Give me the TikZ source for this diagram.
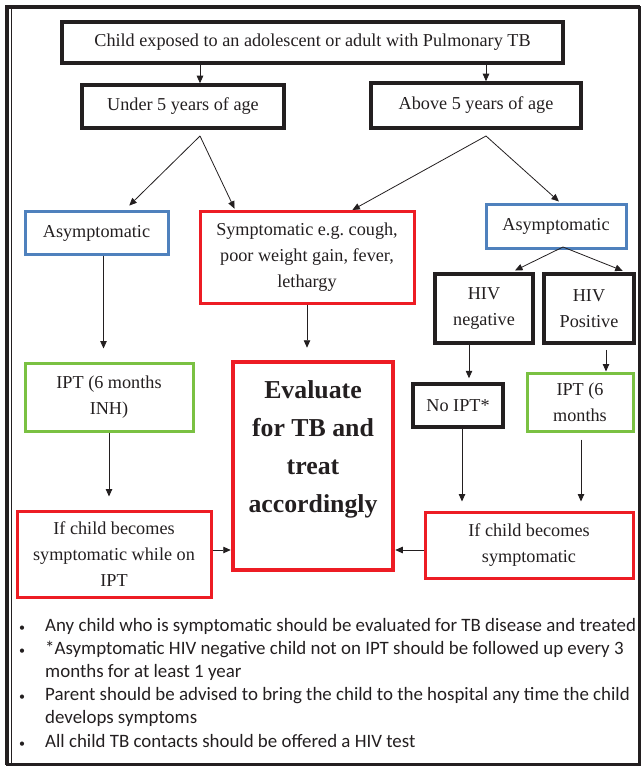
\documentclass[tikz,border=0pt]{standalone}
\usepackage{fontspec}
\setmainfont{Liberation Serif}
\newfontfamily\notefont{Carlito}
\usepackage{xcolor}
\usetikzlibrary{arrows.meta, calc, positioning}
\definecolor{alertred}{RGB}{237, 28, 36}
\definecolor{calmblue}{RGB}{79, 129, 189}
\definecolor{iptgreen}{RGB}{122, 193, 66}
\definecolor{inkgray}{RGB}{35, 31, 32}

\begin{document}
\begin{tikzpicture}[x=1pt, y=-1pt,
    box/.style={rectangle, draw, inner sep=0pt, align=center, text=inkgray, font=\fontsize{18.2}{26}\selectfont},
    blackbox/.style={box, draw=inkgray, line width=3.5pt},
    bluebox/.style={box, draw=calmblue, line width=3pt},
    redbox/.style={box, draw=alertred, line width=3pt},
    greenbox/.style={box, draw=iptgreen, line width=3pt},
    arrow/.style={-{Triangle[length=7.5pt, width=6.5pt]}, line width=0.8pt, inkgray},
    note/.style={anchor=base west, inner sep=0pt, text=inkgray, font=\notefont\fontsize{18.9}{24}\selectfont},
    dot/.style={anchor=base, inner sep=0pt, text=inkgray, font=\notefont\fontsize{12}{24}\selectfont}
]
\useasboundingbox (0,0) rectangle (644,767);

% Frame
\draw[inkgray, line width=2.5pt] (7,7) rectangle (639.5,764.5);
\draw[inkgray, line width=4pt] (7,764.5) -- (7,7) -- (639.5,7);
\draw[inkgray, line width=1.5pt] (11.5,9) -- (11.5,764.5);

% Exposure and age groups
\node[blackbox, minimum width=501pt, minimum height=41pt] (exposed) at (312.5,42.5) {Child exposed to an adolescent or adult with Pulmonary TB};
\node[blackbox, minimum width=202pt, minimum height=43pt] (under) at (183,106.5) {Under 5 years of age};
\node[blackbox, minimum width=210pt, minimum height=45pt] (above) at (476,105.5) {Above 5 years of age};
\coordinate (usplit) at (200,136);
\coordinate (asplit) at (486,136);

% Second row
\node[bluebox, minimum width=143pt, minimum height=42pt] (asymleft) at (96.5,233) {Asymptomatic};
\node[redbox, minimum width=214pt, minimum height=91pt] (symptom) at (307,257.5) {Symptomatic e.g.\ cough,\\poor weight gain, fever,\\lethargy};
\node[bluebox, minimum width=140pt, minimum height=43pt] (asymright) at (556,226.5) {Asymptomatic};
\coordinate (hsplit) at (563,247);
\node[blackbox, minimum width=98pt, minimum height=69pt] (hivneg) at (484,308.5) {HIV\\negative};
\node[blackbox, minimum width=90pt, minimum height=69pt] (hivpos) at (589,308.5) {HIV\\Positive};

% Treatment row
\node[greenbox, minimum width=168pt, minimum height=68pt] (iptleft) at (109,397) {IPT (6 months\\INH)};
\node[redbox, line width=4.5pt, minimum width=160pt, minimum height=208pt, font=\bfseries\fontsize{25.8}{38}\selectfont] (evaluate) at (313,466) {Evaluate\\for TB and\\treat\\accordingly\\~};
\node[blackbox, minimum width=90pt, minimum height=43pt] (noipt) at (458,405.5) {No IPT*};
\node[greenbox, minimum width=106pt, minimum height=58pt] (iptright) at (580,402) {IPT (6\\months};

% Follow-up row
\node[redbox, minimum width=194pt, minimum height=86pt] (sickleft) at (114,554) {If child becomes\\symptomatic while on\\IPT};
\node[redbox, minimum width=208pt, minimum height=66pt] (sickright) at (529,545) {If child becomes\\symptomatic};

% Arrows
\draw[arrow] (exposed.south -| usplit) -- (under.north -| usplit);
\draw[arrow] (exposed.south -| asplit) -- (above.north -| asplit);
\draw[arrow, shorten >=7pt] (usplit) -- ($(asymleft.north west)!0.69!(asymleft.north east)$);
\draw[arrow, shorten >=2pt] (usplit) -- ($(symptom.north west)!0.17!(symptom.north east)$);
\draw[arrow, shorten >=1pt] (asplit) -- ($(symptom.north west)!0.705!(symptom.north east)$);
\draw[arrow, shorten >=3pt] (asplit) -- ($(asymright.north west)!0.536!(asymright.north east)$);
\draw[arrow, shorten >=4pt] (hsplit) -- ($(hivneg.north west)!0.77!(hivneg.north east)$);
\draw[arrow, shorten >=4pt] (hsplit) -- ($(hivpos.north west)!0.9!(hivpos.north east)$);
\draw[arrow, shorten >=13pt] ([xshift=7pt]asymleft.south) -- ([xshift=7pt]asymleft.south |- iptleft.north);
\draw[arrow, shorten >=12pt] (symptom.south) -- (symptom.south |- evaluate.north);
\draw[arrow, shorten >=13pt] (iptleft.south) -- (iptleft.south |- sickleft.north);
\draw[arrow, shorten >=4pt] ([xshift=-15pt]hivneg.south) -- ([xshift=-15pt]hivneg.south |- noipt.north);
\draw[arrow, shorten <=5pt] ([xshift=17pt]hivpos.south) -- ([xshift=17pt]hivpos.south |- iptright.north);
\draw[arrow, shorten >=9pt] ([xshift=4pt]noipt.south) -- ([xshift=4pt]noipt.south |- sickright.north);
\draw[arrow, shorten <=7pt, shorten >=9pt] ([xshift=1pt]iptright.south) -- ([xshift=1pt]iptright.south |- sickright.north);
\draw[arrow] ([yshift=4pt]sickleft.east) -- ([yshift=4pt]sickleft.east -| evaluate.west);
\draw[arrow] ([yshift=-5pt]sickright.west) -- ([yshift=-5pt]sickright.west -| evaluate.east);

% Notes
\node[dot] (b1) at (22,631) {\textbullet};
\node[note] (n1) at (45,631) {Any child who is symptomatic should be evaluated for TB disease and treated};
\node[dot] (b2) at (22,654) {\textbullet};
\node[note] (n2) at (45,654) {*Asymptomatic HIV negative child not on IPT should be followed up every 3};
\node[note] (n2b) at (45,677) {months for at least 1 year};
\node[dot] (b3) at (22,700) {\textbullet};
\node[note] (n3) at (45,700) {Parent should be advised to bring the child to the hospital any time the child};
\node[note] (n3b) at (45,723) {develops symptoms};
\node[dot] (b4) at (22,747) {\textbullet};
\node[note] (n4) at (45,747) {All child TB contacts should be offered a HIV test};
\end{tikzpicture}
\end{document}
